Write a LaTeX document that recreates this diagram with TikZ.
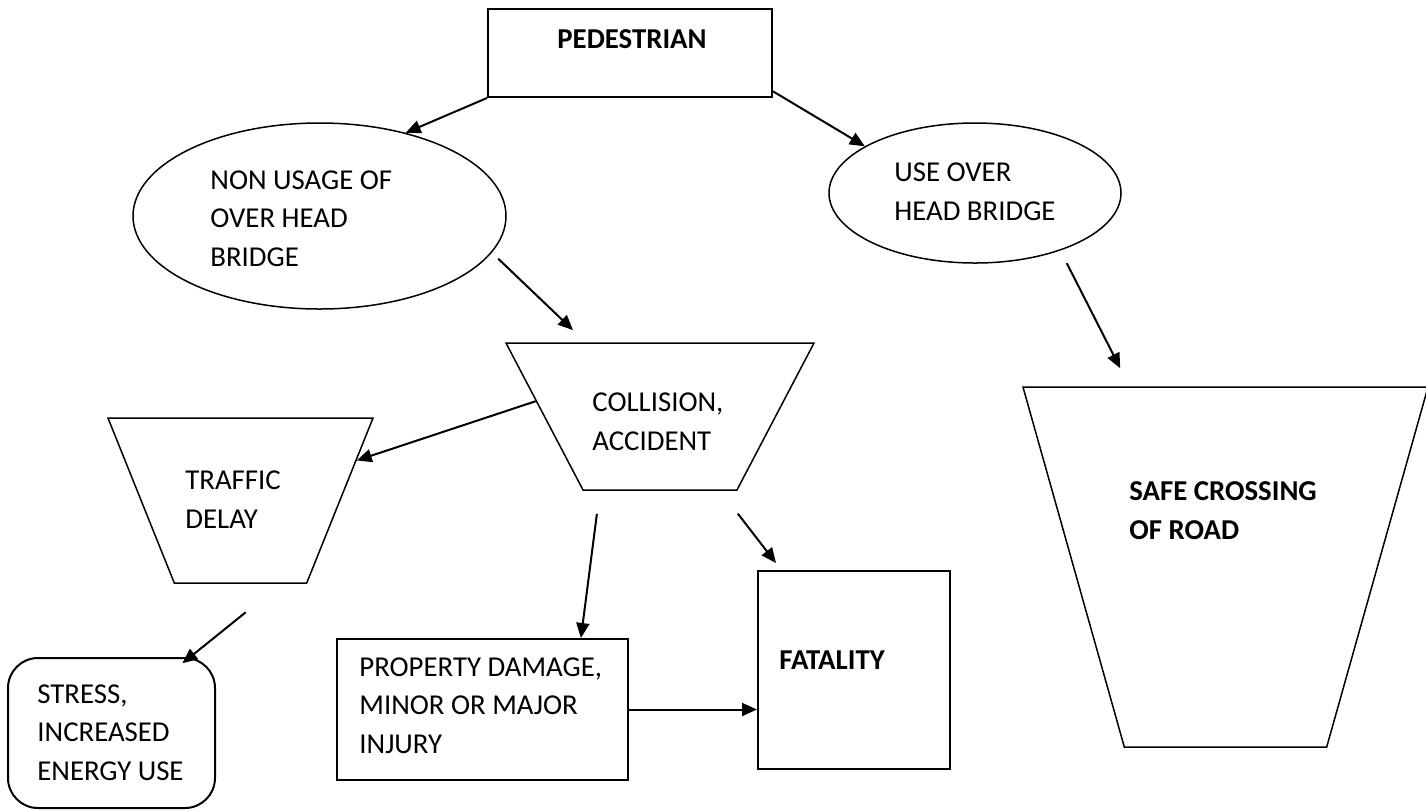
\documentclass[tikz,border=0pt]{standalone}
\usepackage{fontspec}
\setmainfont{Carlito}
\usetikzlibrary{shapes.geometric,arrows.meta}

\begin{document}
\begin{tikzpicture}
[
	x=0.5pt, y=-0.5pt,
	font=\fontsize{14.4pt}{19.25pt}\selectfont,
	boxnode/.style={rectangle,draw,line width=1pt,inner sep=0pt},
	ovalnode/.style={ellipse,draw,line width=0.75pt,inner sep=0pt},
	funnel/.style={trapezium,draw,line width=0.75pt,inner sep=1pt,
		trapezium stretches=true,shape border rotate=180,trapezium angle=63.4},
	txt/.style={anchor=base west,align=left,inner sep=0pt},
	boldtxt/.style={txt,font=\fontsize{14.4pt}{19.25pt}\selectfont\bfseries},
	arr/.style={-{Triangle[length=7.5pt,width=6.5pt]},line width=1pt}
]

	\useasboundingbox (0,0) rectangle (1426,811);

	% shapes
	\node[boxnode,minimum width=142pt,minimum height=44pt] (ped) at (630,53) {};
	\node[ovalnode,minimum width=186.5pt,minimum height=93pt] (nonuse) at (319.5,216) {};
	\node[ovalnode,minimum width=146pt,minimum height=70pt] (useb) at (975,193) {};
	\node[funnel,minimum width=154pt,minimum height=73.5pt] (collision) at (660,416.5) {};
	\node[funnel,minimum width=132.5pt,minimum height=82.5pt] (traffic) at (240.5,500.5) {};
	\node[funnel,minimum width=202.5pt,minimum height=180pt] (safe) at (1225.5,567) {};
	\node[boxnode,rounded corners=15pt,minimum width=103.5pt,minimum height=75pt] (stress) at (111.5,733) {};
	\node[boxnode,minimum width=145.5pt,minimum height=70.5pt] (prop) at (482.5,709.5) {};
	\node[boxnode,minimum width=96pt,minimum height=99pt] (fat) at (854,670) {};

	% texts (base = last line)
	\node[boldtxt] (pedtxt) at (557,48) {PEDESTRIAN};
	\node[txt] (nonusetxt) at (210,266) {NON USAGE OF\\OVER HEAD\\BRIDGE};
	\node[txt] (usebtxt) at (894,220) {USE OVER\\HEAD BRIDGE};
	\node[txt] (collisiontxt) at (592,450) {COLLISION,\\ACCIDENT};
	\node[txt] (traffictxt) at (185,528) {TRAFFIC\\DELAY};
	\node[boldtxt] (safetxt) at (1129,539) {SAFE CROSSING\\OF ROAD};
	\node[txt] (stresstxt) at (37,780) {STRESS,\\INCREASED\\ENERGY USE};
	\node[txt] (proptxt) at (359,753) {PROPERTY DAMAGE,\\MINOR OR MAJOR\\INJURY};
	\node[boldtxt] (fattxt) at (779,669) {FATALITY};

	% arrows
	\draw[arr] (ped.south west) -- (nonuse.44);
	\draw[arr] (ped.-15) -- (useb.157);
	\draw[arr,shorten <=4.4pt,shorten >=8.8pt] (nonuse.-12) -- (collision.135);
	\draw[arr] (collision.173) -- (traffic.19);
	\draw[arr,shorten <=11.6pt] (collision.-129) -- (prop.36);
	\draw[arr,shorten <=14.5pt,shorten >=4.4pt] (collision.-51) -- (fat.126);
	\draw[arr] (prop.east) -- (prop.east -| fat.west);
	\draw[arr,shorten <=22.7pt,shorten >=-5pt] (traffic.-64.5) -- (stress.44);
	\draw[arr,shorten <=7.1pt,shorten >=10.1pt] (useb.-34.5) -- (safe.118);

\end{tikzpicture}
\end{document}
